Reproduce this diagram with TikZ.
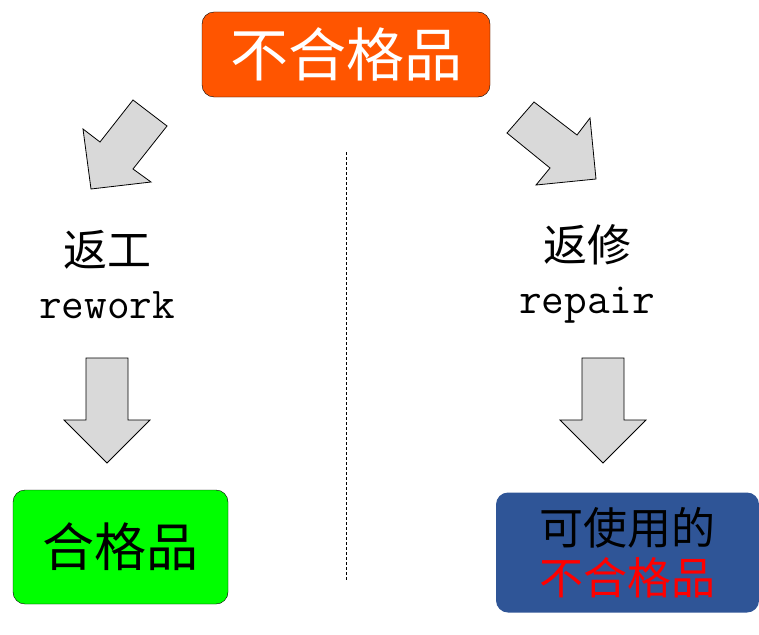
\documentclass[tikz,border=0pt]{standalone}
\usepackage{fontspec}
\usepackage{tikz}
\usetikzlibrary{positioning}
\newfontfamily\cjk{Noto Sans CJK SC}
\definecolor{badorange}{HTML}{FF5500}
\definecolor{goodgreen}{HTML}{00FF00}
\definecolor{usedblue}{HTML}{2F5597}
\definecolor{arrowgrey}{HTML}{D9D9D9}
\tikzset{resultbox/.style={rounded corners=12pt,inner sep=0pt,align=center},
blockarrow/.style={fill=arrowgrey,draw=black,line width=0.8pt,line join=miter},
entext/.style={inner sep=0pt,anchor=base,font=\ttfamily\fontsize{44}{46}\selectfont}}

\begin{document}
\begin{tikzpicture}[x=1pt,y=-1pt]

\useasboundingbox (0,0) rectangle (759,634);

% Top box
\node[resultbox,fill=badorange,draw=black,minimum width=288pt,minimum height=85pt] (bad) at (346,54.5) {\cjk\fontsize{58}{60}\selectfont\color{white}不合格品};

% Slanted arrows
\draw[blockarrow] (133,100) -- (167,126) -- (133,169) -- (151,182) -- (91,189) -- (83,129) -- (100,142) -- cycle;
\draw[blockarrow] (534,102) -- (577,135) -- (590,118) -- (596,179) -- (536,185) -- (550,168) -- (507,133) -- cycle;

% Middle divider
\coordinate (divtop) at (346,152);
\coordinate (divbot) at (346,580);
\draw[densely dashed,line width=0.5pt] (divtop) -- (divbot);

% Process labels
\node[inner sep=0pt] (rework) at (107,250) {\cjk\fontsize{44}{46}\selectfont 返工};
\node[entext] (reworkEn) at (107,318) {rework};
\node[inner sep=0pt] (repair) at (587,245) {\cjk\fontsize{44}{46}\selectfont 返修};
\node[entext] (repairEn) at (587,313) {repair};

% Down arrows
\foreach \cx in {107,603} \draw[blockarrow] (\cx-21,358) -- (\cx+21,358) -- (\cx+21,420) -- (\cx+43,420) -- (\cx,463) -- (\cx-43,420) -- (\cx-21,420) -- cycle;

% Result boxes
\node[resultbox,fill=goodgreen,draw=black,minimum width=215pt,minimum height=114pt] (good) at (120.5,547) {\cjk\fontsize{52}{54}\selectfont 合格品};
\node[resultbox,fill=usedblue,minimum width=263pt,minimum height=120pt] (usable) at (627.5,552.5) {\cjk\fontsize{44}{46}\selectfont 可使用的\\[8pt]\cjk\fontsize{44}{46}\selectfont\color{red}不合格品};

\end{tikzpicture}
\end{document}
